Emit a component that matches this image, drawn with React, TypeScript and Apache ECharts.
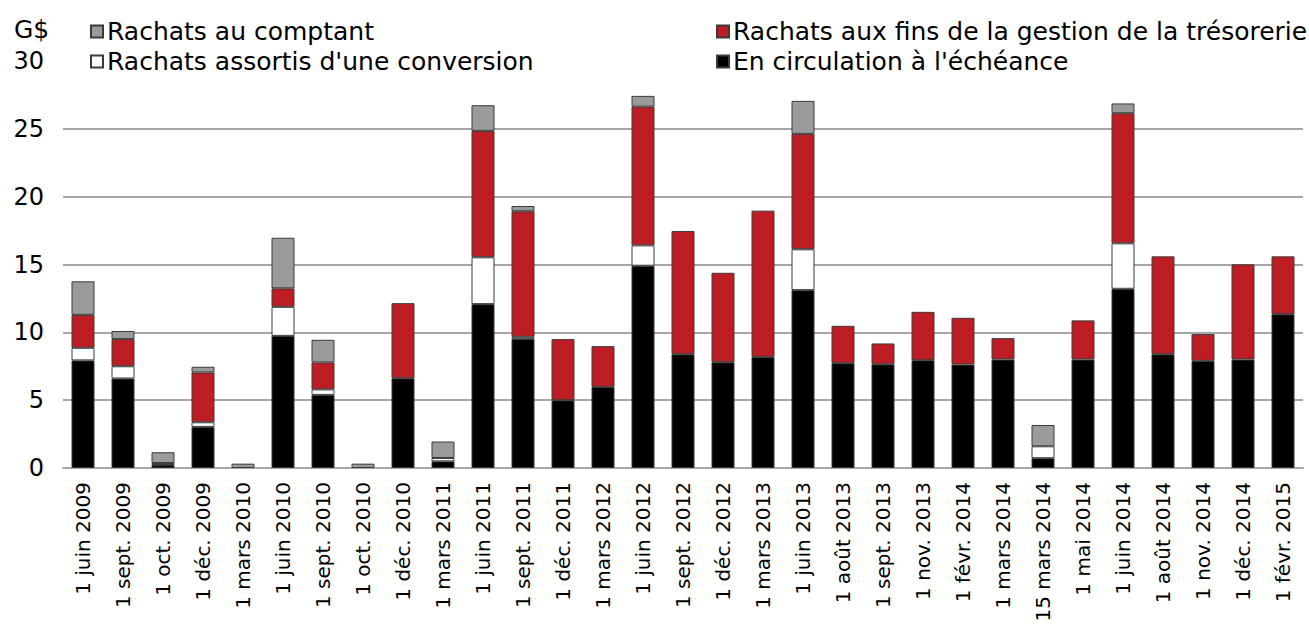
import React, { useEffect, useRef } from "react";
import * as echarts from "echarts";

const categories = [
  "1 juin 2009", "1 sept. 2009", "1 oct. 2009", "1 déc. 2009", "1 mars 2010",
  "1 juin 2010", "1 sept. 2010", "1 oct. 2010", "1 déc. 2010", "1 mars 2011",
  "1 juin 2011", "1 sept. 2011", "1 déc. 2011", "1 mars 2012", "1 juin 2012",
  "1 sept. 2012", "1 déc. 2012", "1 mars 2013", "1 juin 2013", "1 août 2013",
  "1 sept. 2013", "1 nov. 2013", "1 févr. 2014", "1 mars 2014", "15 mars 2014",
  "1 mai 2014", "1 juin 2014", "1 août 2014", "1 nov. 2014", "1 déc. 2014",
  "1 févr. 2015",
];

const circulation = [7.93, 6.6, 0.22, 3.03, 0, 9.74, 5.39, 0, 6.62, 0.49, 12.08, 9.52, 5.0, 5.98, 14.91, 8.39, 7.8, 8.19, 13.11, 7.73, 7.65, 7.95, 7.63, 8.0, 0.72, 8.0, 13.21, 8.39, 7.9, 8.0, 11.34];
const conversion = [0.93, 0.9, 0.15, 0.34, 0, 2.14, 0.4, 0, 0, 0.25, 3.45, 0.15, 0, 0, 1.5, 0, 0, 0, 3.01, 0, 0, 0, 0, 0, 0.88, 0, 3.35, 0, 0, 0, 0];
const tresorerie = [2.43, 2.0, 0, 3.67, 0, 1.36, 1.99, 0, 5.53, 0, 9.32, 9.25, 4.5, 3.0, 10.23, 9.08, 6.59, 10.78, 8.51, 2.75, 1.53, 3.56, 3.44, 1.57, 0, 2.88, 9.59, 7.21, 1.97, 7.01, 4.26];
const comptant = [2.47, 0.6, 0.79, 0.42, 0.32, 3.73, 1.67, 0.32, 0, 1.21, 1.89, 0.39, 0, 0, 0.79, 0, 0, 0, 2.43, 0, 0, 0, 0, 0, 1.57, 0, 0.72, 0, 0, 0, 0];

const NAME_COMPTANT = "Rachats au comptant";
const NAME_CONVERSION = "Rachats assortis d'une conversion";
const NAME_TRESORERIE = "Rachats aux fins de la gestion de la trésorerie";
const NAME_CIRCULATION = "En circulation à l'échéance";

const FONT = "DejaVu Sans";

export default function App() {
  const ref = useRef<HTMLDivElement>(null);
  useEffect(() => {
    if (!ref.current) return;
    const chart = echarts.init(ref.current, undefined, { renderer: "svg" });
    const nz = (arr: number[]) => arr.map((v) => (v === 0 ? null : v));
    const mk = (name: string, data: number[], color: string) => ({
      name,
      type: "bar",
      stack: "total",
      data: nz(data),
      barWidth: 23,
      itemStyle: { color, borderColor: "#3a3a3a", borderWidth: 1 },
    });
    const legendBase = {
      orient: "vertical",
      icon: "rect",
      itemWidth: 12,
      itemHeight: 12,
      itemGap: 5,
      textStyle: { fontFamily: FONT, fontSize: 25, color: "#000", lineHeight: 24, padding: [0, 0, 0, -1] },
      selectedMode: false,
    };
    chart.setOption({
      animation: false,
      textStyle: { fontFamily: FONT },
      grid: {
        left: 63,
        right: 6,
        top: 61,
        bottom: 156,
        containLabel: false,
        outerBoundsMode: "none",
      },
      legend: [
        { ...legendBase, left: 85, top: 14, data: [NAME_COMPTANT, NAME_CONVERSION] },
        { ...legendBase, left: 711, top: 14, data: [NAME_TRESORERIE, NAME_CIRCULATION] },
      ],
      graphic: [
        {
          type: "text",
          left: 14,
          top: 17,
          style: { text: "G$", fontFamily: FONT, fontSize: 25, fill: "#000" },
        },
      ],
      xAxis: {
        type: "category",
        data: categories,
        axisLine: { show: true, lineStyle: { color: "#a6a6a6", width: 2 } },
        axisTick: { show: false },
        axisLabel: {
          rotate: 90,
          interval: 0,
          fontFamily: FONT,
          fontSize: 20,
          color: "#000",
          margin: 14,
        },
      },
      yAxis: {
        type: "value",
        min: 0,
        max: 30,
        interval: 5,
        axisLine: { show: false },
        axisTick: { show: false },
        axisLabel: { fontFamily: FONT, fontSize: 24, color: "#000", margin: 19 },
        splitLine: {
          show: true,
          showMaxLine: false,
          lineStyle: { color: "#a6a6a6", width: 2 },
        },
      },
      series: [
        mk(NAME_CIRCULATION, circulation, "#000000"),
        mk(NAME_CONVERSION, conversion, "#ffffff"),
        mk(NAME_TRESORERIE, tresorerie, "#be1e23"),
        mk(NAME_COMPTANT, comptant, "#9b9b9b"),
      ],
    });
    return () => chart.dispose();
  }, []);
  return (
    <div
      ref={ref}
      style={{ position: "absolute", left: 0, top: 0, width: 1309, height: 624 }}
    />
  );
}
